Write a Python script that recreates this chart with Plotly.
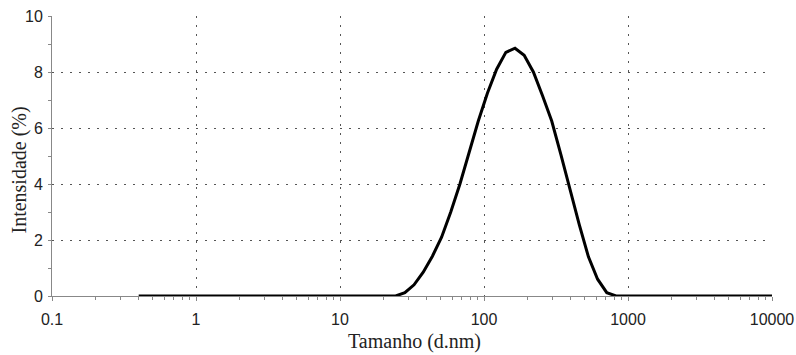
import plotly.graph_objects as go

# Size bins (d.nm) and intensity (%)
size_nm = [0.4, 0.4632, 0.5365, 0.6213, 0.7195, 0.8332, 0.9649, 1.117, 1.294, 1.499,
           1.736, 2.01, 2.328, 2.696, 3.122, 3.615, 4.187, 4.849, 5.615, 6.503,
           7.531, 8.721, 10.1, 11.7, 13.54, 15.69, 18.17, 21.04, 24.36, 28.21,
           32.67, 37.84, 43.82, 50.75, 58.77, 68.06, 78.82, 91.28, 105.7, 122.4,
           141.8, 164.2, 190.1, 220.2, 255.0, 295.3, 342.0, 396.1, 458.7, 531.2,
           615.1, 712.4, 825.0, 955.4, 1106, 1281, 1484, 1718, 1990, 2305,
           2669, 3091, 3580, 4145, 4801, 5560, 6439, 7456, 8635, 10000]
intensity = [0, 0, 0, 0, 0, 0, 0, 0, 0, 0,
             0, 0, 0, 0, 0, 0, 0, 0, 0, 0,
             0, 0, 0, 0, 0, 0, 0, 0, 0, 0.12,
             0.4, 0.85, 1.42, 2.1, 3.0, 4.0, 5.1, 6.25, 7.25, 8.1,
             8.7, 8.85, 8.6, 8.0, 7.15, 6.25, 5.05, 3.75, 2.55, 1.4,
             0.6, 0.12, 0, 0, 0, 0, 0, 0, 0, 0,
             0, 0, 0, 0, 0, 0, 0, 0, 0, 0]

x_ticks = [0.1, 1, 10, 100, 1000, 10000]
x_ticklabels = ["0.1", "1", "10", "100", "1000", "10000"]
x_minor = [m * 10 ** e for e in range(-1, 4) for m in range(2, 10)]
y_ticks = [0, 2, 4, 6, 8, 10]

fig = go.Figure()
fig.add_trace(go.Scatter(x=size_nm, y=intensity, mode="lines",
                         line=dict(color="black", width=3), showlegend=False))

grid_kw = dict(showgrid=True, gridcolor="#555555", gridwidth=1.3, griddash="2px,7px")
tick_font = dict(family="Liberation Sans, Arial, sans-serif", size=16, color="#222222")

fig.update_xaxes(type="log", range=[-1, 4], tickvals=x_ticks, ticktext=x_ticklabels,
                 ticks="outside", ticklen=4, tickcolor="#888888", tickwidth=1,
                 showline=True, linecolor="#888888", linewidth=1, zeroline=False,
                 tickfont=tick_font, ticklabelstandoff=5, automargin=False,
                 minor=dict(tickvals=x_minor, ticks="outside", ticklen=3,
                            tickcolor="#888888", showgrid=False),
                 **grid_kw)
fig.update_yaxes(range=[0, 10], tickvals=y_ticks,
                 ticks="outside", ticklen=3, tickcolor="#888888", tickwidth=1,
                 showline=True, linecolor="#888888", linewidth=1, zeroline=False,
                 tickfont=tick_font, ticklabelstandoff=2, automargin=False,
                 minor=dict(dtick=1, ticks="outside", ticklen=3,
                            tickcolor="#888888", showgrid=False),
                 **grid_kw)

title_font = dict(family="Liberation Serif, Times New Roman, serif", size=20, color="#222222")
fig.add_annotation(text="Tamanho (d.nm)", xref="paper", yref="paper",
                   x=0.503, y=-0.161, showarrow=False, font=title_font,
                   xanchor="center", yanchor="middle")
fig.add_annotation(text="Intensidade (%)", xref="paper", yref="paper",
                   x=-0.0465, y=0.45, showarrow=False, font=title_font,
                   textangle=-90, xanchor="center", yanchor="middle")

fig.update_layout(width=796, height=355, autosize=False,
                  margin=dict(l=52, r=24, t=16, b=59),
                  paper_bgcolor="white", plot_bgcolor="white")

fig.write_html("out.html")
